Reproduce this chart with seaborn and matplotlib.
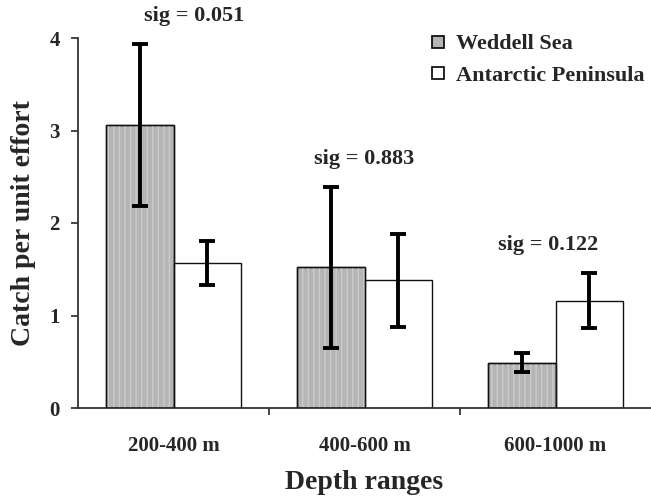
import numpy as np
import pandas as pd
import matplotlib
matplotlib.use("Agg")
import matplotlib.pyplot as plt
from matplotlib.patches import Rectangle
from matplotlib.ticker import FixedLocator
import seaborn as sns

# data
depths = ['200-400 m', '400-600 m', '600-1000 m']
weddell = [3.06, 1.52, 0.49]
weddell_err = [0.88, 0.87, 0.105]
peninsula = [1.57, 1.38, 1.16]
peninsula_err = [0.24, 0.50, 0.30]
sig_labels = ['sig = 0.051', 'sig = 0.883', 'sig = 0.122']
regions = ['Weddell Sea', 'Antarctic Peninsula']

df = pd.DataFrame({
    'depth': depths * 2,
    'cpue': weddell + peninsula,
    'err': weddell_err + peninsula_err,
    'region': [regions[0]] * 3 + [regions[1]] * 3,
})

sns.set_style("white")
plt.rcParams['font.family'] = ['Liberation Serif', 'DejaVu Serif']
plt.rcParams['font.weight'] = 'bold'

fig = plt.figure(figsize=(6.51, 4.96), dpi=100)
ax = fig.add_axes([78 / 651, 88 / 496, 573 / 651, 370 / 496])

sns.barplot(data=df, x='depth', y='cpue', hue='region', order=depths,
            hue_order=regions, palette=['#b5b5b5', 'white'],
            edgecolor='#111111', linewidth=1.0, width=0.71, gap=0,
            errorbar=None, legend=False, ax=ax)

# error bars + stripes on the grey bars
n = len(depths)
for i, p in enumerate(ax.patches[:2 * n]):
    xc = p.get_x() + p.get_width() / 2
    h = p.get_height()
    e = df['err'].iloc[i]
    ax.errorbar(xc, h, yerr=e, fmt='none', ecolor='black',
                elinewidth=2.8, capsize=5.5, capthick=2.8, zorder=5)
    if i < n:
        ax.add_patch(Rectangle((p.get_x(), 0), p.get_width(), h, fill=False,
                               hatch='|||', edgecolor='#cbcbcb', lw=0, zorder=2))
        # redraw outline over the stripes
        ax.add_patch(Rectangle((p.get_x(), 0), p.get_width(), h, fill=False,
                               edgecolor='#111111', lw=1.0, zorder=3))

# significance labels above each group
sig_dx = [0.11, 0.0, -0.04]
for i in range(n):
    top = max(weddell[i] + weddell_err[i], peninsula[i] + peninsula_err[i])
    ax.text(i + sig_dx[i], top + 0.19, sig_labels[i], ha='center', va='bottom',
            fontsize=16, fontweight='bold', clip_on=False)

ax.set_xlim(-0.5, 2.5)
ax.set_ylim(0, 4)
ax.set_yticks([0, 1, 2, 3, 4])
ax.xaxis.set_minor_locator(FixedLocator([0.5, 1.5]))
ax.tick_params(axis='x', which='major', length=0, pad=20, labelsize=15)
ax.tick_params(axis='x', which='minor', length=5, width=1.2, direction='out', bottom=True)
ax.tick_params(axis='y', length=5, width=1.2, direction='out', left=True, labelsize=15, pad=8)
for lab in ax.get_xticklabels() + ax.get_yticklabels():
    lab.set_fontweight('bold')

sns.despine(ax=ax)
ax.spines['left'].set_linewidth(1.3)
ax.spines['bottom'].set_linewidth(1.3)
ax.spines['left'].set_color('#333333')
ax.spines['bottom'].set_color('#333333')

ax.set_xlabel('Depth ranges', fontsize=20, fontweight='bold', labelpad=10)
ax.set_ylabel('Catch per unit effort', fontsize=20, fontweight='bold', labelpad=10)

# legend with small square markers, no frame
handles = [plt.Line2D([], [], marker='s', linestyle='none', markersize=9,
                      markerfacecolor=c, markeredgecolor='black', markeredgewidth=1.2)
           for c in ['#b5b5b5', 'white']]
ax.legend(handles, regions, loc='upper left', bbox_to_anchor=(340 / 573, 1.035),
          frameon=False, prop={'weight': 'bold', 'size': 16},
          handletextpad=0.3, labelspacing=0.5, handlelength=1.0,
          borderaxespad=0)

fig.savefig('out.png', dpi=100)
